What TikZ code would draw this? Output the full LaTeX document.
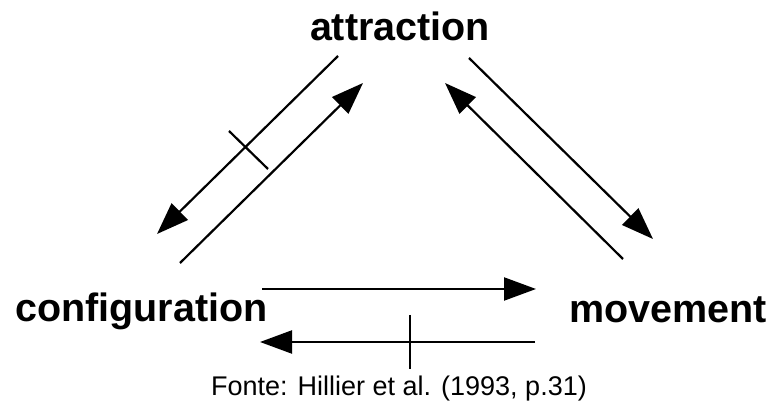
\documentclass[tikz,border=0pt]{standalone}
\usepackage{fontspec}
\setmainfont{Liberation Sans}
\usetikzlibrary{arrows.meta}
\tikzset{
  lbl/.style={inner sep=0pt, font=\fontsize{39.5}{47}\selectfont\bfseries},
  srccap/.style={inner sep=0pt, font=\fontsize{27}{32}\selectfont},
  conn/.style={line width=2.2pt, -{Triangle[length=32pt,width=23pt]}},
  tickmark/.style={line width=2.2pt}
}
\begin{document}
\begin{tikzpicture}[x=1pt,y=-1pt]
\useasboundingbox (0,0) rectangle (772,403);
\node[lbl, anchor=base] (attr) at (400,41) {attraction};
\node[lbl, anchor=base west] (conf) at (15,322) {configuration};
\node[lbl, anchor=base east] (move) at (767,323) {movement};
\node[srccap, anchor=base] (src) at (399,396) {Fonte: Hillier et al. (1993, p.31)};
% arrow end points
\coordinate (l1s) at (338,56);  \coordinate (l1e) at (157,234);
\coordinate (l2s) at (180,263); \coordinate (l2e) at (363,83);
\coordinate (r1s) at (469,58);  \coordinate (r1e) at (653,239);
\coordinate (r2s) at (623,259); \coordinate (r2e) at (445,83);
\coordinate (b1s) at (262,289); \coordinate (b1e) at (536,289);
\coordinate (b2s) at (535,342); \coordinate (b2e) at (260,342);
\coordinate (t1a) at (229,131); \coordinate (t1b) at (268,169);
\coordinate (t2a) at (410,315); \coordinate (t2b) at (410,369);
\draw[conn] (l1s) -- (l1e);
\draw[conn] (l2s) -- (l2e);
\draw[conn] (r1s) -- (r1e);
\draw[conn] (r2s) -- (r2e);
\draw[conn] (b1s) -- (b1e);
\draw[conn] (b2s) -- (b2e);
\draw[tickmark] (t1a) -- (t1b);
\draw[tickmark] (t2a) -- (t2b);
\end{tikzpicture}
\end{document}
